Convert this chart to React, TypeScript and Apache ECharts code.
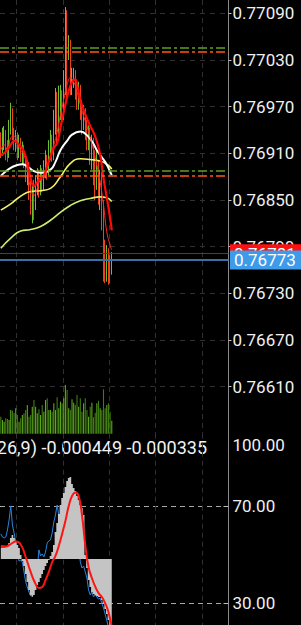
import React, { useEffect, useRef } from "react";
import * as echarts from "echarts";

// ---------- data ----------
const TOTAL_SLOTS = 138;
const categories: string[] = Array.from({ length: TOTAL_SLOTS }, (_, i) => `${i}`);

// candles: [open, close, low, high]
const candles: number[][] = [
  [0.76927, 0.76914, 0.76904, 0.76937],
  [0.76912, 0.7693, 0.76907, 0.76943],
  [0.76921, 0.76937, 0.76914, 0.76945],
  [0.76934, 0.76914, 0.76901, 0.7694],
  [0.76917, 0.76908, 0.76899, 0.76927],
  [0.76908, 0.76943, 0.76904, 0.76953],
  [0.7694, 0.76966, 0.76934, 0.76975],
  [0.76963, 0.76934, 0.76927, 0.76968],
  [0.76934, 0.76921, 0.76914, 0.76943],
  [0.76917, 0.76934, 0.76912, 0.7694],
  [0.7693, 0.76914, 0.76901, 0.76937],
  [0.76912, 0.76927, 0.76904, 0.76934],
  [0.76925, 0.76908, 0.76899, 0.7693],
  [0.76904, 0.76917, 0.76895, 0.76925],
  [0.76914, 0.76901, 0.76891, 0.76921],
  [0.76901, 0.76882, 0.76873, 0.76908],
  [0.76878, 0.76895, 0.76869, 0.76901],
  [0.76891, 0.76863, 0.7685, 0.76899],
  [0.76865, 0.76844, 0.76831, 0.76876],
  [0.76837, 0.76863, 0.7682, 0.76869],
  [0.7686, 0.76844, 0.76824, 0.76876],
  [0.76844, 0.76869, 0.76837, 0.76882],
  [0.76865, 0.76882, 0.76856, 0.76891],
  [0.76878, 0.76863, 0.76853, 0.76889],
  [0.76863, 0.76886, 0.76856, 0.76895],
  [0.76882, 0.76869, 0.7686, 0.76891],
  [0.76869, 0.76891, 0.76863, 0.76901],
  [0.76889, 0.76901, 0.76878, 0.76914],
  [0.76899, 0.76886, 0.76876, 0.76908],
  [0.76889, 0.76914, 0.76882, 0.76927],
  [0.76912, 0.76927, 0.76901, 0.7694],
  [0.76925, 0.76908, 0.76899, 0.76934],
  [0.76908, 0.76946, 0.76901, 0.76966],
  [0.76943, 0.76959, 0.76934, 0.76994],
  [0.76955, 0.76934, 0.76921, 0.76989],
  [0.76934, 0.76966, 0.76927, 0.76997],
  [0.76963, 0.76985, 0.76953, 0.76998],
  [0.76981, 0.76959, 0.76946, 0.76991],
  [0.76959, 0.76998, 0.76953, 0.77017],
  [0.76994, 0.77056, 0.76985, 0.77098],
  [0.77056, 0.7703, 0.76979, 0.77094],
  [0.77033, 0.77053, 0.7703, 0.77062],
  [0.77049, 0.76998, 0.76985, 0.77056],
  [0.76994, 0.77015, 0.76985, 0.7702],
  [0.77004, 0.77015, 0.76994, 0.7702],
  [0.77015, 0.76998, 0.76979, 0.77017],
  [0.76998, 0.76985, 0.76966, 0.77004],
  [0.76979, 0.76994, 0.76966, 0.77002],
  [0.76991, 0.76966, 0.76953, 0.76998],
  [0.76968, 0.76953, 0.76934, 0.76979],
  [0.76946, 0.76963, 0.7694, 0.76972],
  [0.76959, 0.7694, 0.76927, 0.76968],
  [0.76943, 0.76927, 0.76914, 0.76953],
  [0.76921, 0.7694, 0.76914, 0.76946],
  [0.76937, 0.76914, 0.76895, 0.76943],
  [0.76908, 0.76927, 0.76889, 0.76934],
  [0.76925, 0.76908, 0.76869, 0.7693],
  [0.76908, 0.76889, 0.7685, 0.76914],
  [0.76876, 0.76901, 0.76863, 0.76914],
  [0.76895, 0.76856, 0.76844, 0.76901],
  [0.76856, 0.76882, 0.76837, 0.76889],
  [0.76878, 0.76837, 0.76811, 0.76886],
  [0.76844, 0.76766, 0.76745, 0.7685],
  [0.76779, 0.76754, 0.76743, 0.76799],
  [0.7676, 0.76786, 0.76745, 0.76792],
  [0.76783, 0.76757, 0.76741, 0.76788],
  [0.7677, 0.76752, 0.76743, 0.76779],
  [0.76757, 0.76773, 0.76754, 0.76783],
];

const volumes: number[] = [
  15.7, 12.6, 11.1, 14.2, 13.5, 12.6, 21.9, 21.2, 19, 23.4, 17.2, 11.1, 14.2, 17.2, 18.8, 21.9, 26.5,
  15.7, 17.2, 24.9, 31.1, 24.9, 18.8, 22.5, 17.2, 26.5, 20.3, 31.1, 32.7, 21.9, 21.9, 20.3, 28, 21.9,
  33.6, 23.4, 29.5, 28, 32.7, 44.9, 40.3, 23.4, 21.9, 31.7, 28.6, 26.5, 35.7, 24.9, 32.7, 20.3, 28,
  32.7, 21.9, 15.7, 24.9, 28.6, 15.1, 19.4, 28, 30.4, 23.4, 21.9, 41, 23.4, 26.5, 28, 20.3, 12,
];

// moving averages: [candle index, price]
const maWhite: number[][] = [
  [0, 0.76881], [5, 0.7689], [10, 0.76895], [13, 0.76896], [16, 0.76893], [20, 0.76887],
  [24, 0.76885], [30, 0.76889], [33, 0.76899], [36, 0.76914], [40, 0.76926], [43, 0.76934],
  [48, 0.76938], [53, 0.76931], [56, 0.76922], [58, 0.76914], [61, 0.76905], [63, 0.76899],
  [65, 0.76891], [67, 0.76882],
];
const maYellow: number[][] = [
  [0, 0.76837], [6, 0.76845], [12, 0.76855], [18, 0.76861], [24, 0.76862], [30, 0.76865],
  [36, 0.7688], [42, 0.76897], [48, 0.76903], [54, 0.76902], [60, 0.769], [64, 0.76896], [67, 0.7689],
];
const maLime: number[][] = [
  [0, 0.76788], [6, 0.76801], [12, 0.7681], [18, 0.76812], [24, 0.76816], [30, 0.76824],
  [36, 0.76834], [42, 0.76843], [48, 0.76849], [54, 0.76852], [60, 0.76854], [64, 0.76853], [67, 0.76848],
];
const maRedSlow: number[][] = [
  [0, 0.76908], [3, 0.76912], [6, 0.76921], [8, 0.76926], [10, 0.76923], [12, 0.76919], [14, 0.76912],
  [16, 0.76898], [18, 0.76878], [20, 0.76868], [22, 0.76873], [24, 0.76878], [26, 0.76882], [28, 0.76894],
  [30, 0.76905], [32, 0.76917], [34, 0.76923], [36, 0.76943], [38, 0.76963], [40, 0.76982], [42, 0.76997],
  [44, 0.77004], [45, 0.77005], [46, 0.76998], [48, 0.76979], [50, 0.76966], [52, 0.76955], [54, 0.76945],
  [56, 0.76937], [58, 0.76925], [60, 0.76908], [62, 0.76878], [64, 0.76853], [66, 0.76827], [67, 0.76811],
];
const maRedFast: number[][] = [
  [0, 0.76914], [2, 0.76921], [4, 0.76914], [6, 0.7693], [8, 0.76932], [10, 0.76922], [12, 0.76914],
  [14, 0.76908], [16, 0.76889], [18, 0.76865], [20, 0.76856], [22, 0.76865], [24, 0.76876], [26, 0.76878],
  [28, 0.76891], [30, 0.76908], [32, 0.76921], [34, 0.76937], [36, 0.76959], [38, 0.76979], [40, 0.76998],
  [42, 0.77007], [44, 0.77002], [46, 0.76989], [48, 0.76973], [50, 0.76958], [52, 0.76945], [54, 0.7693],
  [56, 0.76914], [58, 0.76895], [60, 0.76873], [62, 0.76844], [64, 0.76809], [66, 0.76792], [67, 0.76786],
];

const priceTicks: number[] = [0.7709, 0.7703, 0.7697, 0.7691, 0.7685, 0.7679, 0.7673, 0.7667, 0.7661];
const levelGreen: number[] = [0.77046, 0.76888];
const levelOrange: number[] = [0.7704, 0.76881];
const askPrice = 0.76781;
const bidPrice = 0.76773;

const macdHist: number[] = [
  0.000057, 0.000057, 0.000057, 0.000059, 0.000064, 0.000079, 0.000104, 0.000119, 0.000104, 0.000084,
  0.000069, 0.000054, 0.00002, -0.00001, -0.000035, -0.000074, -0.000114, -0.000153, -0.000178, -0.000187,
  -0.000178, -0.000153, -0.000129, -0.000114, -0.000094, -0.000074, -0.000054, -0.000035, -0.00002, -0.000005,
  0.000015, 0.000035, 0.000069, 0.000134, 0.000178, 0.000223, 0.000267, 0.000302, 0.000327, 0.000356,
  0.000386, 0.000401, 0.000406, 0.000371, 0.000351, 0.000337, 0.000312, 0.000292, 0.000267, 0.000252,
  0.000218, 0.00002, -0.000045, -0.000104, -0.000139, -0.000163, -0.000173, -0.000178, -0.000183, -0.000188,
  -0.000188, -0.000203, -0.000223, -0.000247, -0.000272, -0.000302, -0.000336, -0.000449,
];
const macdSignal: number[][] = [
  [0, 0.000064], [3, 0.000062], [6, 0.000074], [9, 0.000086], [12, 0.000072], [15, 0.00001],
  [18, -0.000064], [21, -0.000124], [23, -0.000144], [25, -0.000139], [27, -0.000104], [29, -0.000064],
  [31, -0.000015], [33, 0.000015], [35, 0.000064], [37, 0.000124], [39, 0.000188], [41, 0.000262],
  [43, 0.000312], [45, 0.000329], [47, 0.000312], [49, 0.000218], [51, 0.000069], [53, -0.00004],
  [55, -0.000094], [57, -0.000137], [59, -0.000168], [61, -0.000188], [63, -0.000218], [65, -0.000262],
  [67, -0.000335],
];
const rsi: number[] = [
  58.7, 57.4, 57.0, 57.4, 60.3, 64.4, 70.2, 62.4, 59.1, 55.4, 50.8, 47.5, 47.9, 47.1, 43.0, 38.9, 36.8,
  34.7, 33.1, 34.3, 36.8, 39.3, 43.8, 52.1, 49.6, 50.4, 49.2, 51.2, 54.9, 55.8, 56.2, 59.1, 63.6, 66.5,
  70.6, 66.5, 64.4, 67.7, 66.5, 69.4, 68.5, 70.6, 67.7, 65.2, 66.5, 62.4, 60.3, 54.1, 47.1, 44.6, 45.4,
  43.0, 40.5, 35.5, 33.5, 34.7, 32.7, 33.5, 32.7, 31.8, 32.2, 30.2, 28.1, 25.6, 23.1, 19.9, 17.0, 14.9,
];
const rsiLabelTicks: number[] = [100, 70, 30];
const rsiLevelTicks: number[] = [70, 30];
const macdLegend = "MACD(12,26,9) -0.000449 -0.000335";

// ---------- styling constants ----------
const PRICE_MIN = 0.7654958;
const PRICE_MAX = 0.771071;
const UP = "#6cbf2a";
const DOWN = "#f0401e";
const FONT = "Roboto";

export default function App() {
  const ref = useRef<HTMLDivElement>(null);

  useEffect(() => {
    document.body.style.margin = "0";
    document.body.style.background = "#000";
    if (!ref.current) return;
    const chart = echarts.init(ref.current, undefined, { renderer: "svg" });

    const gridSplit = {
      show: true,
      interval: (i: number) => i % 28 === 10,
      lineStyle: { color: "#303030", type: [5, 4], width: 1 },
    };

    const levelData: any[] = [];
    levelGreen.forEach((v) =>
      levelData.push({ yAxis: v, lineStyle: { color: "#5f9e1f", type: [9, 3, 3, 3], width: 1.5 }, label: { show: false } })
    );
    levelOrange.forEach((v) =>
      levelData.push({ yAxis: v, lineStyle: { color: "#ff5a14", type: [9, 3, 3, 3], width: 1.5 }, label: { show: false } })
    );
    const boxLabel = (bg: string) => ({
      show: true,
      position: "end",
      distance: 1.5,
      formatter: (p: any) => Number(p.value).toFixed(5),
      color: "#ffffff",
      fontSize: 17,
      fontFamily: FONT,
      lineHeight: 17,
      backgroundColor: bg,
      padding: [1, 8, 1, 4],
    });
    levelData.push({ yAxis: askPrice, lineStyle: { color: "#c40c0c", type: "solid", width: 1 }, label: boxLabel("#ff1010") });
    levelData.push({ yAxis: bidPrice, lineStyle: { color: "#3a6fa8", type: "solid", width: 2 }, label: boxLabel("#3d9be9") });

    const maLine = (data: number[][], color: string, width: number, z = 3) => ({
      type: "line",
      xAxisIndex: 0,
      yAxisIndex: 0,
      data,
      smooth: true,
      showSymbol: false,
      silent: true,
      z,
      lineStyle: { color, width },
    });

    const option: any = {
      backgroundColor: "#000000",
      animation: false,
      grid: [
        { left: 0, right: 72.5, top: 0, height: 433.7 },
        { left: 0, right: 72.5, top: 433.7, height: 242.5 },
      ],
      xAxis: [
        {
          type: "category",
          gridIndex: 0,
          data: categories,
          axisLine: { show: false },
          axisTick: { show: false },
          axisLabel: { show: false },
          splitLine: gridSplit,
        },
        {
          type: "category",
          gridIndex: 1,
          data: categories,
          position: "top",
          axisLine: { show: true, lineStyle: { color: "#e6e6e6", width: 1 } },
          axisTick: { show: false },
          axisLabel: { show: false },
          splitLine: gridSplit,
        },
      ],
      yAxis: [
        {
          type: "value",
          gridIndex: 0,
          position: "right",
          min: PRICE_MIN,
          max: PRICE_MAX,
          axisLine: { show: true, lineStyle: { color: "#8a8a8a", width: 1 } },
          axisTick: { show: true, customValues: priceTicks, length: 3, lineStyle: { color: "#bdbdbd" } },
          axisLabel: {
            customValues: priceTicks,
            formatter: (v: number) => v.toFixed(5),
            color: "#f0f0f0",
            fontSize: 17,
            fontFamily: FONT,
            margin: 4,
          },
          splitLine: { show: true, lineStyle: { color: "#303030", type: [5, 5], width: 1 } },
        },
        { type: "value", gridIndex: 0, min: 0, max: 400, show: false },
        {
          type: "value",
          gridIndex: 1,
          position: "right",
          min: 0,
          max: 100,
          axisLine: { show: true, lineStyle: { color: "#8a8a8a", width: 1 } },
          axisTick: { show: true, inside: true, customValues: rsiLevelTicks, length: 5, lineStyle: { color: "#bdbdbd" } },
          axisLabel: {
            customValues: rsiLabelTicks,
            formatter: (v: number) => (v === 100 ? "\n100.00" : v.toFixed(2)),
            color: "#f0f0f0",
            fontSize: 17,
            fontFamily: FONT,
            lineHeight: 22,
            margin: 4,
          },
          splitLine: { show: true, lineStyle: { color: "#a8a8a8", type: [5, 4], width: 1 } },
        },
        { type: "value", gridIndex: 1, min: -0.00058, max: 0.00062, show: false },
      ],
      series: [
        {
          type: "bar",
          xAxisIndex: 0,
          yAxisIndex: 1,
          barWidth: 1.1,
          silent: true,
          z: 1,
          data: volumes.map((v, i) => ({
            value: v,
            itemStyle: { color: candles[i][1] >= candles[i][0] ? "#5ea81c" : "#3f7d12" },
          })),
        },
        {
          type: "candlestick",
          xAxisIndex: 0,
          yAxisIndex: 0,
          data: candles,
          barWidth: 1.2,
          silent: true,
          z: 2,
          itemStyle: { color: UP, color0: DOWN, borderColor: UP, borderColor0: DOWN, borderWidth: 1 },
          markLine: { symbol: "none", silent: true, animation: false, precision: 6, z: 5, data: levelData },
        },
        maLine(maLime, "#cdf06e", 1.6),
        maLine(maYellow, "#f4f46a", 1.6),
        maLine(maWhite, "#ffffff", 2),
        maLine(maRedFast, "#ff2a2a", 1),
        maLine(maRedSlow, "#ff0a0a", 2.2),
        {
          type: "line",
          xAxisIndex: 1,
          yAxisIndex: 2,
          data: rsi,
          showSymbol: false,
          silent: true,
          z: 2,
          lineStyle: { color: "#2a86e0", width: 1 },
        },
        {
          // MACD histogram drawn as a solid stepped block, as in the reference
          type: "line",
          xAxisIndex: 1,
          yAxisIndex: 3,
          data: macdHist,
          step: "middle",
          showSymbol: false,
          silent: true,
          z: 3,
          lineStyle: { width: 0, color: "#c4c4c4" },
          areaStyle: { color: "#c4c4c4", opacity: 1, origin: 0 },
        },
        {
          type: "line",
          xAxisIndex: 1,
          yAxisIndex: 3,
          data: macdSignal,
          smooth: true,
          showSymbol: false,
          silent: true,
          z: 4,
          lineStyle: { color: "#ff1414", width: 2 },
        },
      ],
      graphic: [
        {
          type: "text",
          x: 207,
          y: 447.5,
          silent: true,
          style: {
            text: macdLegend,
            fill: "#f2f2f2",
            fontSize: 18,
            fontFamily: FONT,
            align: "right",
            verticalAlign: "middle",
            textAlign: "right",
            textVerticalAlign: "middle",
          },
        },
      ],
    };

    chart.setOption(option);
    return () => chart.dispose();
  }, []);

  return (
    <div
      ref={ref}
      style={{ position: "fixed", left: 0, top: 0, width: 301, height: 680, background: "#000" }}
    />
  );
}
